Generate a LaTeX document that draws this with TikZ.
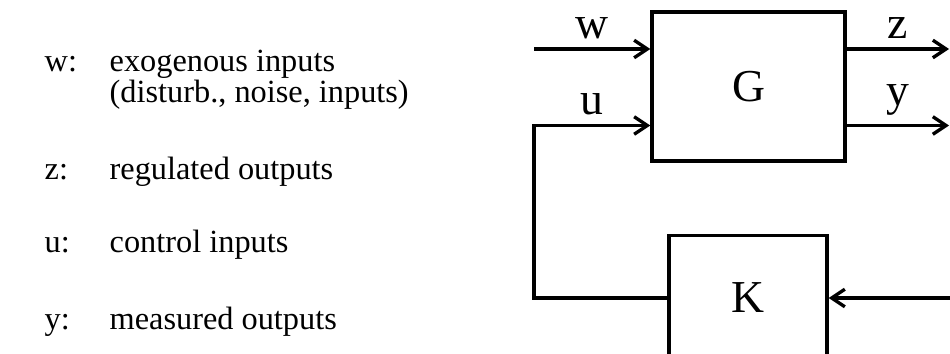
\documentclass[tikz,border=0pt]{standalone}
\usepackage{fontspec}
\setmainfont{Liberation Serif}
\usetikzlibrary{arrows.meta,calc,positioning}

\begin{document}
\begin{tikzpicture}[line width=1.9pt, >={Straight Barb[length=7.5pt,width=10pt]},
  blok/.style={draw,minimum width=3.86cm,minimum height=2.98cm,
               font=\fontsize{26}{30}\selectfont},
  sinyal/.style={above,inner sep=5pt,font=\fontsize{26}{30}\selectfont},
  aciklama/.style={anchor=base west,inner sep=0pt,font=\fontsize{18.4}{22}\selectfont}]
\useasboundingbox (0,0) rectangle (19,7.08);
\clip (0,0) rectangle (19,7.08);
% legend
\foreach \s/\t/\y [count=\i] in {w/exogenous inputs/5.65, z/regulated outputs/3.48,
    u/control inputs/2.02, y/measured outputs/0.48}{
  \node[aciklama] (s\i) at (0.86,\y) {\s:};
  \node[aciklama] (t\i) at (2.16,\y) {\t};
}
\node[aciklama] (t0) at (2.16,5.02) {(disturb., noise, inputs)};
% plant and controller
\node[blok] (G) at (14.97,5.35) {G};
\node[blok,minimum width=3.16cm,minimum height=2.5cm] (K) at (14.96,1.12) {K};
\coordinate (wIn) at (10.68,6.1);
\coordinate (kose) at (10.68,4.57);
\coordinate (zOut) at (18.98,6.1);
\coordinate (yOut) at (18.98,4.57);
\coordinate (geri) at (19.3,1.12);
\draw[->] (wIn) -- node[sinyal]{w} (wIn -| G.west);
\draw[->] (K.west) -| (kose) -- node[sinyal]{u} (kose -| G.west);
\draw[->] (zOut -| G.east) -- node[sinyal]{z} (zOut);
\draw[->] (yOut -| G.east) -- node[sinyal]{y} (yOut);
\draw[->] (geri) -- (K.east);
\end{tikzpicture}
\end{document}
